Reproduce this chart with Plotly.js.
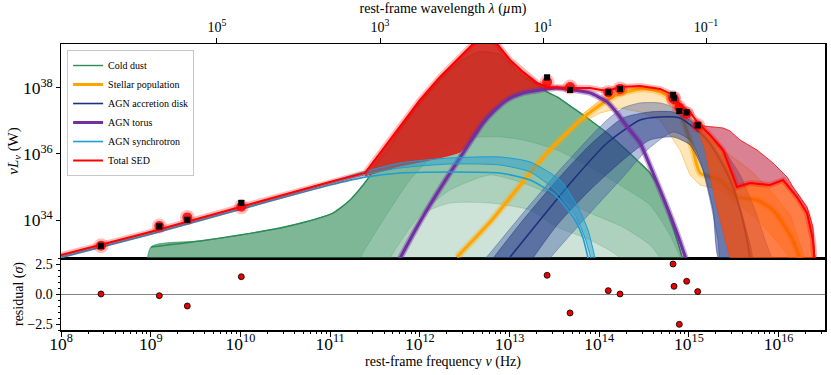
<!DOCTYPE html>
<html>
<head>
<meta charset="utf-8">
<script src="https://cdn.plot.ly/plotly-3.0.1.min.js"></script>
<style>
  html, body { margin: 0; padding: 0; background: #fff; }
  #sed { width: 831px; height: 375px; }
</style>
</head>
<body>
<div id="sed"></div>
<script>
// SED fit with model components + residual panel
// all values are log10: nu in Hz, nuLnu in W

// AGN synchrotron
const synMedNu = [8.000, 8.992, 9.996, 10.999, 11.389, 11.779, 12.337, 12.894, 13.229, 13.507, 13.730, 13.820, 13.953];
const synMedL  = [32.860, 33.560, 34.320, 35.060, 35.300, 35.424, 35.455, 35.424, 35.212, 34.758, 34.000, 33.450, 31.900];
const synHiNu  = [8.000, 8.992, 9.996, 10.999, 11.389, 11.779, 12.337, 12.894, 13.229, 13.563, 13.764, 13.875, 13.953, 14.009];
const synHiL   = [32.920, 33.620, 34.380, 35.160, 35.470, 35.727, 35.879, 35.909, 35.758, 35.212, 34.394, 33.697, 32.848, 32.030];
const synLoNu  = [8.000, 8.992, 9.996, 10.999, 11.389, 11.779, 12.337, 12.894, 13.229, 13.507, 13.730, 13.842, 13.920];
const synLoL   = [32.880, 33.580, 34.340, 35.100, 35.370, 35.576, 35.697, 35.667, 35.455, 34.909, 34.152, 33.455, 32.727];

// cold dust: upper envelope and lower percentile curves
const dustTopNu = [9.003, 9.003, 9.550, 9.996, 10.441, 10.720, 11.032, 11.222, 11.411, 11.523, 11.668, 11.779, 12.002, 12.225, 12.448, 12.671, 12.894, 13.117, 13.307, 13.418, 13.530, 13.708, 13.897, 14.087, 14.265, 14.455, 14.566, 14.678, 14.823, 14.923, 15.012];
const dustTopL  = [31.500, 33.182, 33.364, 33.545, 33.758, 33.939, 34.212, 34.606, 35.212, 35.727, 36.212, 36.727, 37.545, 38.242, 38.788, 39.091, 39.000, 38.400, 38.091, 37.879, 37.727, 37.394, 37.030, 36.636, 36.212, 35.727, 35.424, 34.909, 33.788, 32.879, 31.880];
const dustBaseNu = [9.003, 15.012];
const dustBaseL  = [31.500, 31.500];
const dust1Nu = [9.003, 11.100, 11.333, 11.891, 12.225, 12.560, 12.894, 13.151, 13.530, 13.897, 14.265, 14.566, 14.789, 14.901, 15.012];
const dust1L  = [31.500, 31.500, 32.848, 35.212, 36.121, 36.485, 36.515, 36.424, 36.121, 35.606, 35.000, 34.455, 33.545, 32.848, 31.500];
const dust2Nu = [9.003, 11.450, 11.668, 12.002, 12.337, 12.783, 13.151, 13.530, 13.897, 14.265, 14.566, 14.678, 14.800, 15.012];
const dust2L  = [31.500, 31.500, 32.848, 34.152, 34.909, 35.364, 35.121, 34.697, 34.212, 33.788, 33.242, 32.848, 31.500, 31.500];
const dust3Nu = [9.003, 11.550, 11.779, 12.058, 12.337, 12.783, 13.229, 13.530, 13.897, 14.232, 14.400, 15.012];
const dust3L  = [31.500, 31.500, 32.848, 34.212, 34.515, 34.515, 34.303, 33.788, 33.394, 32.848, 31.500, 31.500];

// total SED: far-IR band, median, UV band
const irHiNu = [11.389, 11.556, 11.779, 12.002, 12.225, 12.448, 12.593, 12.727, 12.861, 13.006, 13.151, 13.307, 13.418];
const irHiL  = [35.455, 36.030, 36.818, 37.636, 38.333, 38.939, 39.333, 39.515, 39.333, 38.848, 38.485, 38.152, 38.030];
const irLoNu = [11.389, 11.779, 12.114, 12.448, 12.560, 12.705, 12.816, 12.972, 13.151, 13.340, 13.418];
const irLoL  = [35.333, 35.636, 35.818, 36.061, 36.364, 36.939, 37.242, 37.636, 37.848, 37.939, 37.939];
const totNu = [8.000, 8.992, 9.996, 10.664, 10.999, 11.389, 11.556, 11.779, 12.002, 12.225, 12.448, 12.593, 12.727, 12.861, 13.006, 13.151, 13.307, 13.418, 13.675, 13.897, 14.087, 14.232, 14.455, 14.678, 14.823, 14.901, 15.012, 15.090, 15.235, 15.380, 15.536, 15.681, 15.904, 16.049, 16.205, 16.317, 16.383, 16.406, 16.417];
const totL  = [32.939, 33.636, 34.394, 34.909, 35.152, 35.424, 36.030, 36.818, 37.636, 38.333, 38.939, 39.333, 39.515, 39.333, 38.848, 38.485, 38.152, 38.030, 38.000, 38.000, 37.909, 38.030, 38.061, 37.970, 37.788, 37.485, 37.273, 36.970, 36.576, 36.121, 35.000, 35.121, 35.061, 35.212, 34.697, 34.212, 33.394, 32.848, 32.180];
const uvHiNu = [15.090, 15.157, 15.380, 15.458, 15.570, 15.759, 15.937, 16.094, 16.161, 16.317, 16.383, 16.406, 16.417];
const uvHiL  = [36.970, 36.848, 36.788, 36.697, 36.424, 36.121, 35.727, 35.303, 35.000, 34.394, 33.788, 32.848, 32.180];
const uvLoNu = [15.090, 15.179, 15.291, 15.402, 15.491, 16.417];
const uvLoL  = [36.848, 36.121, 34.606, 33.394, 32.485, 32.485];

// stellar population
const starNu = [12.415, 12.783, 13.229, 13.418, 13.641, 13.819, 14.009, 14.198, 14.343, 14.533, 14.678, 14.823, 14.934, 15.045, 15.124, 15.347, 15.536, 15.759, 15.937, 16.127, 16.238, 16.294];
const starL  = [32.879, 33.939, 35.424, 36.030, 36.636, 37.091, 37.485, 37.788, 37.909, 37.970, 37.879, 37.636, 37.030, 36.121, 35.424, 35.212, 34.697, 34.606, 34.303, 33.545, 32.848, 32.333];
const starHiNu = [13.819, 14.009, 14.232, 14.455, 14.678, 14.823, 14.934, 15.068, 15.235, 15.458, 15.681, 15.904, 16.127, 16.294];
const starHiL  = [37.212, 37.636, 37.970, 38.030, 37.970, 37.818, 37.333, 36.879, 36.424, 35.970, 35.515, 34.909, 34.152, 32.848];
const starLoNu = [13.819, 14.009, 14.232, 14.455, 14.678, 14.901, 15.012, 15.124, 15.347, 15.570, 15.793, 16.016, 16.127];
const starLoL  = [36.970, 37.242, 37.394, 37.273, 37.030, 36.121, 35.364, 35.061, 34.909, 34.455, 33.939, 33.242, 32.848];

// AGN accretion disk
const diskHiNu = [12.694, 12.783, 13.151, 13.530, 13.897, 14.087, 14.265, 14.455, 14.678, 14.823, 15.012, 15.179, 15.347, 15.570, 15.737, 15.849, 15.926];
const diskHiL  = [32.727, 33.000, 34.212, 35.424, 36.515, 37.030, 37.394, 37.545, 37.545, 37.424, 37.091, 36.727, 36.273, 35.364, 34.303, 33.394, 32.636];
const diskLoNu = [13.396, 13.452, 13.897, 14.265, 14.533, 14.823, 15.012, 15.124, 15.235, 15.324, 15.369];
const diskLoL  = [32.636, 32.848, 34.212, 35.303, 36.121, 36.667, 36.424, 35.818, 34.606, 33.394, 32.636];
const diskInHiNu = [12.783, 13.151, 13.530, 13.897, 14.265, 14.566, 14.823, 15.012, 15.179, 15.347, 15.514, 15.625, 15.703];
const diskInHiL  = [32.727, 34.000, 35.212, 36.273, 37.091, 37.273, 37.273, 37.030, 36.576, 35.970, 34.909, 33.848, 32.727];
const diskInLoNu = [13.229, 13.530, 13.897, 14.265, 14.566, 14.823, 15.012, 15.157, 15.269, 15.347];
const diskInLoL  = [32.727, 33.848, 34.909, 35.818, 36.424, 36.515, 36.273, 35.515, 34.303, 32.727];
const diskNu = [13.006, 13.340, 13.708, 14.087, 14.455, 14.678, 14.901, 15.045, 15.202, 15.347, 15.458, 15.570, 15.648, 15.692];
const diskL  = [32.879, 34.000, 35.212, 36.333, 37.030, 37.121, 37.091, 36.818, 36.424, 35.818, 35.212, 34.303, 33.394, 32.636];

// AGN torus
const torNu = [11.757, 11.969, 12.147, 12.337, 12.526, 12.705, 12.816, 12.972, 13.151, 13.340, 13.530, 13.708, 13.897, 14.087, 14.198, 14.288, 14.377, 14.455, 14.600, 14.756, 14.867, 14.979];
const torL  = [32.727, 33.788, 34.606, 35.424, 36.212, 36.939, 37.273, 37.636, 37.848, 37.939, 38.000, 37.939, 37.848, 37.576, 37.242, 36.909, 36.606, 36.333, 35.424, 34.394, 33.606, 32.727];

// photometry, model at the same bands, residuals in sigma
const obsNu  = [8.446, 9.096, 9.408, 10.010, 13.419, 13.675, 14.101, 14.232, 14.823, 14.834, 14.893, 14.975, 15.098];
const obsL   = [33.22, 33.81, 34.01, 34.52, 38.32, 37.94, 37.87, 37.97, 37.79, 37.69, 37.30, 37.26, 36.87];
const modelL = [33.22, 33.82, 34.08, 34.40, 38.18, 38.03, 37.86, 37.97, 37.70, 37.66, 37.40, 37.22, 36.86];
const resid  = [0.00, -0.14, -1.00, 1.44, 1.56, -1.58, 0.28, 0.00, 2.50, 0.64, -2.53, 1.06, 0.20];

// axis ticks
const topTickVals = [1e5, 1e3, 1e1, 1e-1];
const topTickText = ['10<sup>5</sup>', '10<sup>3</sup>', '10<sup>1</sup>', '10<sup>\u22121</sup>'];
const resTickVals = [-2.5, 0, 2.5];
const resTickText = ['\u22122.5', '0.0', '2.5'];

const dustC = 'rgb(46,139,87)';
const starC = 'rgb(255,165,0)';
const diskC = 'rgb(28,48,128)';
const torC  = 'rgb(112,48,160)';
const synC  = 'rgb(28,158,214)';
const totC  = 'rgb(255,0,0)';
const FONT  = 'Liberation Serif, Times New Roman, serif';

const pw = a => a.map(v => Math.pow(10, v));

function band(xHi, yHi, xLo, yLo, fillcolor, linecolor, lw, shape) {
  return {
    x: pw(xHi.concat(xLo.slice().reverse())),
    y: pw(yHi.concat(yLo.slice().reverse())),
    type: 'scatter', mode: 'lines', fill: 'toself', fillcolor: fillcolor,
    line: {color: linecolor, width: lw, shape: shape || 'spline', smoothing: 0.6},
    xaxis: 'x2', yaxis: 'y2', showlegend: false, hoverinfo: 'skip'
  };
}

function curve(xs, ys, color, width, name, rank, shape) {
  return {
    x: pw(xs), y: pw(ys), type: 'scatter', mode: 'lines',
    line: {color: color, width: width, shape: shape || 'spline', smoothing: 0.6},
    xaxis: 'x2', yaxis: 'y2',
    name: name || '', showlegend: !!name, legendrank: rank || 1000, hoverinfo: 'skip'
  };
}

const iUV = totNu.findIndex(v => v >= 15.09);
const uvMedNu = totNu.slice(iUV);
const uvMedL  = totL.slice(iUV);

const traces = [
  // cold dust layers
  band(dustTopNu, dustTopL, dustBaseNu, dustBaseL, 'rgba(46,139,87,0.24)', 'rgba(46,139,87,0.35)', 0.7),
  band(dustTopNu, dustTopL, dust1Nu, dust1L, 'rgba(46,139,87,0.22)', 'rgba(46,139,87,0.3)', 0.7),
  band(dustTopNu, dustTopL, dust2Nu, dust2L, 'rgba(46,139,87,0.2)', 'rgba(46,139,87,0.3)', 0.7),
  band(dustTopNu, dustTopL, dust3Nu, dust3L, 'rgba(46,139,87,0.2)', 'rgba(46,139,87,0.3)', 0.7),
  curve(dustTopNu.slice(1), dustTopL.slice(1), dustC, 1.4, 'Cold dust', 1),

  // far-IR part of the total
  band(irHiNu, irHiL, irLoNu, irLoL, 'rgba(210,40,30,0.93)', 'rgba(235,30,20,0.9)', 1),

  // stellar population
  band(starHiNu, starHiL, starLoNu, starLoL, 'rgba(255,165,0,0.28)', 'rgba(255,165,0,0.6)', 0.8, 'linear'),
  curve(starNu, starL, 'rgba(255,165,0,0.35)', 7),
  curve(starNu, starL, starC, 3, 'Stellar population', 2),

  // accretion disk
  band(diskHiNu, diskHiL, diskLoNu, diskLoL, 'rgba(55,85,160,0.38)', 'rgba(50,80,160,0.55)', 0.8),
  band(diskInHiNu, diskInHiL, diskInLoNu, diskInLoL, 'rgba(28,48,128,0.48)', 'rgba(28,48,128,0.6)', 0.8),
  curve(diskNu, diskL, diskC, 1.6, 'AGN accretion disk', 3),

  // torus
  curve(torNu, torL, 'rgba(112,48,160,0.4)', 6),
  curve(torNu, torL, torC, 3, 'AGN torus', 4),

  // synchrotron
  band(synHiNu, synHiL, synLoNu, synLoL, 'rgba(28,158,214,0.45)', synC, 1),
  curve(synMedNu, synMedL, synC, 1.6, 'AGN synchrotron', 5),

  // UV part of the total
  band(uvHiNu, uvHiL, uvMedNu, uvMedL, 'rgba(190,25,60,0.55)', 'rgba(255,0,0,0.8)', 1, 'linear'),
  band(uvMedNu, uvMedL, uvLoNu, uvLoL, 'rgba(255,75,0,0.72)', 'rgba(255,60,0,0.6)', 0.8, 'linear'),

  // total SED
  curve(totNu, totL, 'rgba(255,0,0,0.28)', 6, '', 1000, 'linear'),
  curve(totNu, totL, totC, 2, 'Total SED', 6, 'linear'),

  // model photometry and data
  {
    x: pw(obsNu), y: pw(modelL), type: 'scatter', mode: 'markers',
    marker: {size: 15, color: 'rgba(255,0,0,0.25)'},
    xaxis: 'x2', yaxis: 'y2', showlegend: false, hoverinfo: 'skip'
  },
  {
    x: pw(obsNu), y: pw(modelL), type: 'scatter', mode: 'markers',
    marker: {size: 10, color: 'rgba(255,0,0,0.85)'},
    xaxis: 'x2', yaxis: 'y2', showlegend: false, hoverinfo: 'skip'
  },
  {
    x: pw(obsNu), y: pw(obsL), type: 'scatter', mode: 'markers',
    marker: {size: 6, symbol: 'square', color: '#000'},
    error_y: {type: 'percent', value: 15, color: '#000', thickness: 1.2, width: 3},
    xaxis: 'x2', yaxis: 'y2', showlegend: false, hoverinfo: 'skip'
  },

  // residuals
  {
    x: pw(obsNu), y: resid, type: 'scatter', mode: 'markers',
    marker: {size: 6, color: 'rgb(230,0,0)', line: {color: '#000', width: 0.8}},
    xaxis: 'x', yaxis: 'y', showlegend: false, hoverinfo: 'skip'
  },

  // registers the wavelength axis
  {x: [], y: [], type: 'scatter', xaxis: 'x3', yaxis: 'y2', showlegend: false}
];

const axisFont = {family: FONT, size: 14, color: '#000'};
const resTop = 72 / 286;

const layout = {
  width: 831, height: 375,
  margin: {l: 61, r: 6, t: 44, b: 45},
  paper_bgcolor: '#fff', plot_bgcolor: '#fff',
  font: {family: FONT, size: 14, color: '#000'},
  showlegend: true,
  legend: {
    x: 0.008, y: 0.979, xanchor: 'left', yanchor: 'top',
    bgcolor: 'rgba(255,255,255,0.9)', bordercolor: 'rgb(200,200,200)', borderwidth: 1,
    font: {family: FONT, size: 10, color: '#000'},
    itemwidth: 30, tracegroupgap: 0
  },
  xaxis: {
    type: 'log', range: [8, 16.517], domain: [0, 1], anchor: 'y',
    dtick: 1, tick0: 0, exponentformat: 'power',
    ticks: 'outside', ticklen: 5, tickwidth: 1, tickcolor: '#000',
    ticklabelstandoff: -7,
    minor: {ticks: 'outside', ticklen: 2.5, tickcolor: '#000', dtick: 'D1'},
    showline: true, linecolor: '#000', linewidth: 1.5, mirror: true,
    showgrid: false, zeroline: false, tickfont: axisFont,
    title: {text: 'rest-frame frequency <i>ν</i> (Hz)', font: axisFont, standoff: 2}
  },
  yaxis: {
    range: [-3, 3], domain: [0, resTop], anchor: 'x',
    tickmode: 'array', tickvals: resTickVals, ticktext: resTickText,
    ticks: 'outside', ticklen: 4, tickcolor: '#000',
    minor: {ticks: 'outside', ticklen: 2, tickcolor: '#000', dtick: 0.5},
    showline: true, linecolor: '#000', linewidth: 1.5, mirror: true,
    showgrid: false, zeroline: true, zerolinecolor: 'rgb(130,130,130)', zerolinewidth: 1,
    tickfont: axisFont,
    title: {text: 'residual (<i>σ</i>)', font: axisFont, standoff: 0}
  },
  xaxis2: {
    type: 'log', range: [8, 16.517], domain: [0, 1], anchor: 'y2', matches: 'x',
    showticklabels: false, ticks: '',
    showline: true, linecolor: '#000', linewidth: 1.5, mirror: true,
    showgrid: false, zeroline: false
  },
  yaxis2: {
    type: 'log', range: [32.85, 39.33], domain: [resTop, 1], anchor: 'x2',
    dtick: 2, tick0: 0, exponentformat: 'power',
    ticks: 'outside', ticklen: 4, tickcolor: '#000',
    showline: true, linecolor: '#000', linewidth: 1.5, mirror: true,
    showgrid: false, zeroline: false, tickfont: axisFont,
    title: {text: '<i>νL</i><sub><i>ν</i></sub> (W)', font: {family: FONT, size: 15, color: '#000'}, standoff: 0}
  },
  xaxis3: {
    type: 'log', range: [6.914, -2.46], overlaying: 'x2', side: 'top', anchor: 'y2',
    tickmode: 'array', tickvals: topTickVals, ticktext: topTickText,
    ticks: 'outside', ticklen: 5, tickcolor: '#000',
    showline: true, linecolor: '#000', linewidth: 1.5,
    showgrid: false, zeroline: false, tickfont: axisFont,
    title: {text: 'rest-frame wavelength <i>λ</i> (<i>µ</i>m)', font: axisFont, standoff: 0}
  }
};

Plotly.newPlot('sed', traces, layout, {displayModeBar: false, staticPlot: true});
</script>
</body>
</html>
